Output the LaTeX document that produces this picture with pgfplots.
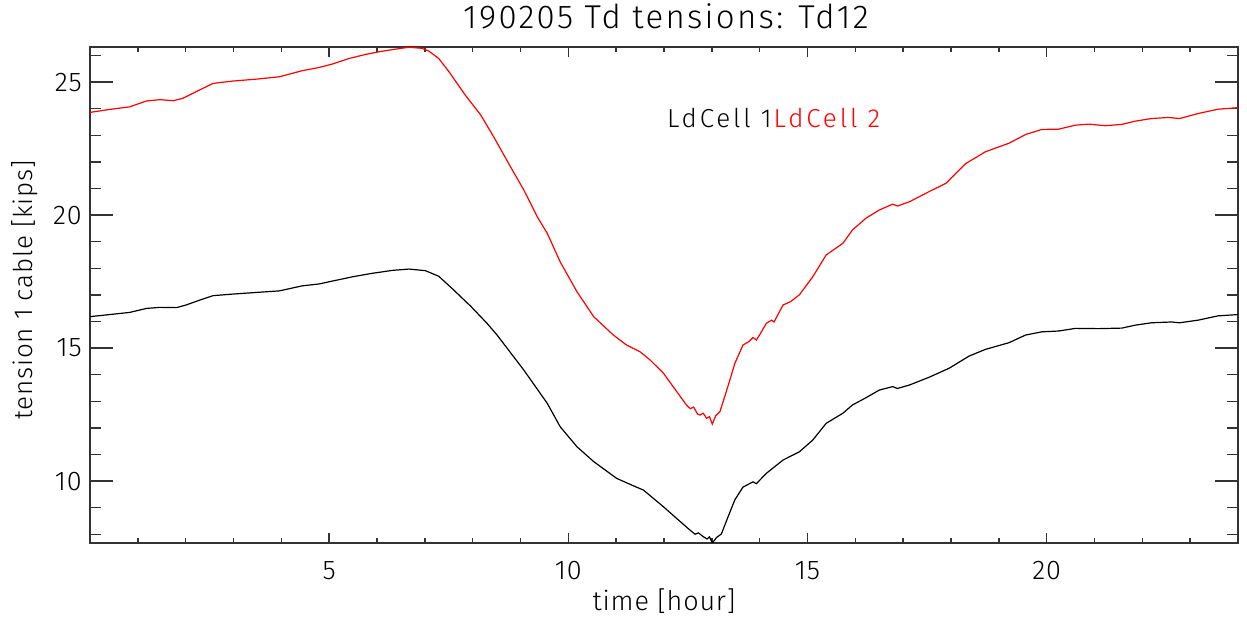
\documentclass[border=0pt]{standalone}
\usepackage{pgfplots}
\pgfplotsset{compat=1.18}
\usepackage{fontspec}
\setmainfont{Fira Sans Light}[LetterSpace=3]
\pgfplotstableread{
h v
0 23.86
0.4 23.97
0.83 24.07
1.18 24.29
1.46 24.34
1.74 24.30
1.94 24.39
2.22 24.64
2.57 24.95
2.99 25.04
3.47 25.11
3.96 25.20
4.44 25.43
4.79 25.55
5.07 25.68
5.42 25.89
5.76 26.04
6.04 26.14
6.39 26.24
6.67 26.31
6.94 26.27
7.08 26.17
7.29 25.89
7.5 25.40
7.85 24.50
8.17 23.76
8.44 22.94
8.79 21.82
9.07 20.94
9.35 19.94
9.56 19.31
9.83 18.24
10.18 17.12
10.53 16.18
10.94 15.49
11.22 15.11
11.5 14.86
11.71 14.55
11.99 14.05
12.19 13.55
12.47 12.86
12.55 12.72
12.62 12.78
12.70 12.52
12.75 12.48
12.82 12.55
12.89 12.36
12.95 12.42
13.01 12.14
13.08 12.45
13.17 12.61
13.34 13.58
13.48 14.42
13.65 15.11
13.78 15.25
13.86 15.40
13.93 15.30
14.0 15.50
14.14 15.93
14.25 16.05
14.30 15.98
14.49 16.62
14.65 16.75
14.83 17.00
15.11 17.68
15.39 18.50
15.74 18.94
15.94 19.44
16.22 19.88
16.5 20.19
16.78 20.41
16.88 20.34
17.13 20.50
17.54 20.88
17.89 21.19
18.31 21.94
18.72 22.38
19.21 22.70
19.56 23.03
19.90 23.22
20.25 23.23
20.60 23.38
20.88 23.42
21.22 23.36
21.57 23.41
21.85 23.53
22.19 23.63
22.54 23.67
22.78 23.63
23.17 23.82
23.58 23.98
24.0 24.04
}\red
\pgfplotstableread{
h v
0 16.18
0.83 16.34
1.18 16.49
1.46 16.53
1.81 16.52
2.01 16.62
2.29 16.80
2.57 16.97
2.99 17.03
3.47 17.09
3.96 17.15
4.44 17.34
4.79 17.41
5.07 17.52
5.49 17.68
5.90 17.81
6.32 17.92
6.67 17.97
7.01 17.91
7.29 17.70
7.57 17.24
7.96 16.57
8.30 15.93
8.51 15.49
9.07 14.17
9.56 12.92
9.83 12.04
10.18 11.29
10.53 10.73
11.01 10.10
11.36 9.82
11.57 9.66
11.99 9.03
12.26 8.60
12.54 8.16
12.65 8.00
12.72 8.05
12.82 7.91
12.90 7.82
12.95 7.90
13.01 7.67
13.10 7.88
13.20 8.01
13.34 8.66
13.48 9.29
13.65 9.77
13.86 9.97
13.93 9.90
14.14 10.29
14.49 10.79
14.83 11.10
15.11 11.54
15.39 12.17
15.74 12.55
15.94 12.86
16.22 13.13
16.5 13.42
16.78 13.55
16.88 13.48
17.13 13.61
17.54 13.90
17.96 14.24
18.38 14.70
18.72 14.95
19.21 15.20
19.56 15.49
19.90 15.61
20.25 15.64
20.60 15.74
21.08 15.73
21.57 15.75
21.85 15.86
22.19 15.95
22.61 15.98
22.78 15.95
23.17 16.05
23.58 16.21
24.0 16.26
}\black
\begin{document}
\begin{tikzpicture}
\pgfplotsset{base/.style={scale only axis, width=1148pt, height=496pt,
  xmin=0, xmax=24, ymin=7.67, ymax=26.32, at={(90pt,83pt)}, anchor=south west,
  axis line style={black!80, line width=1.4pt},
  tick style={black!80, line width=1.4pt}, tick align=inside,
  /pgf/number format/assume math mode=true,
  ticklabel style={font=\fontsize{27}{30}\selectfont}}}
\begin{axis}[base, xtick={5,10,15,20}, minor xtick={1,...,23}, ytick=\empty,
  major tick length=10pt, minor tick length=5pt,
  xticklabel style={anchor=base, yshift=-37pt},
  xlabel={time [hour]},
  xlabel style={at={(axis description cs:0.5,-0.1351)}, anchor=base, font=\fontsize{27}{30}\selectfont}]
\end{axis}
\begin{axis}[base, xtick=\empty, ytick={10,15,20,25}, minor ytick={8,...,26},
  major tick length=23pt, minor tick length=11pt,
  yticklabel style={anchor=east, inner sep=0pt, xshift=-8pt},
  ylabel={tension 1 cable [kips]},
  ylabel style={at={(axis description cs:-0.0497,0.51)}, anchor=base, font=\fontsize{26}{30}\selectfont},
  title={190205 Td tensions: Td12},
  title style={at={(axis description cs:0.5017,1.0242)}, anchor=base, font=\fontsize{33}{36}\selectfont\addfontfeatures{LetterSpace=7}}]
\addplot[black, line width=1.2pt] table[x=h, y=v] {\black};
\addplot[red, line width=1.2pt] table[x=h, y=v] {\red};
\node[anchor=base west, inner sep=0pt, font=\fontsize{26}{30}\selectfont\addfontfeatures{LetterSpace=11}] at (axis cs:12.06,23.31) {LdCell 1\hspace{2pt}\textcolor{red}{LdCell 2}};
\end{axis}
\pgfresetboundingbox
\path[use as bounding box] (0,0) rectangle (1247pt,626pt);
\end{tikzpicture}
\end{document}
